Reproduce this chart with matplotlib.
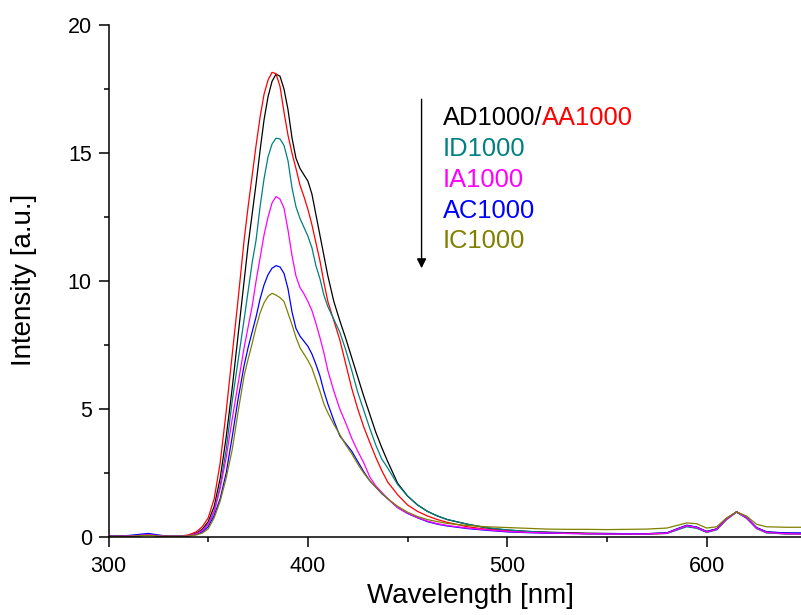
import matplotlib
matplotlib.use("Agg")
import matplotlib.pyplot as plt
from matplotlib.ticker import MultipleLocator

plt.rcParams['font.family'] = ['Liberation Sans', 'DejaVu Sans']

wavelength = [300, 305, 310, 315, 320, 325, 330, 335, 340, 344, 347,
              350, 353, 356, 359, 362, 365, 368,
              370, 372, 374, 376, 378, 380, 382, 384, 386, 388, 390,
              392, 394, 396, 398, 400, 402, 404, 406, 408, 410,
              413, 416, 419, 422, 425, 428, 431, 434, 437, 440,
              445, 450, 455, 460, 465, 470,
              480, 490, 500, 510, 520, 530, 540, 550, 560, 570, 580,
              585, 590, 595, 600, 605, 610, 615, 620, 625, 630,
              640, 647]

AD1000 = [0.03, 0.03, 0.04, 0.05, 0.08, 0.05, 0.03, 0.03, 0.06, 0.15, 0.3,
          0.6, 1.2, 2.3, 3.9, 5.8, 7.9, 10.0,
          11.4, 12.6, 13.8, 15.1, 16.3, 17.2, 17.8, 18.08, 18.0, 17.5, 16.7,
          15.6, 14.8, 14.4, 14.15, 13.9, 13.4, 12.6, 11.8, 11.0, 10.2,
          9.2, 8.45, 7.75, 7.0, 6.25, 5.5, 4.8, 4.1, 3.5, 2.95,
          2.1, 1.6, 1.25, 1.0, 0.82, 0.68,
          0.5, 0.35, 0.27, 0.22, 0.19, 0.17, 0.15, 0.14, 0.13, 0.13, 0.16,
          0.3, 0.45, 0.38, 0.22, 0.32, 0.72, 0.98, 0.75, 0.36, 0.2,
          0.15, 0.14]

AA1000 = [0.03, 0.03, 0.04, 0.06, 0.1, 0.06, 0.03, 0.03, 0.08, 0.2, 0.4,
          0.75, 1.5, 2.9, 4.9, 7.1, 9.3, 11.6,
          12.9, 14.1, 15.3, 16.4, 17.3, 17.85, 18.15, 18.1, 17.6, 16.6, 15.7,
          15.0, 14.4, 13.75, 13.3, 12.8, 12.2, 11.5, 10.8, 9.95, 9.2,
          8.45, 7.7, 6.75, 5.8, 5.0, 4.3, 3.7, 3.12, 2.6, 2.15,
          1.65, 1.25, 1.0, 0.82, 0.68, 0.57,
          0.4, 0.3, 0.25, 0.2, 0.17, 0.15, 0.13, 0.12, 0.11, 0.11, 0.14,
          0.28, 0.43, 0.36, 0.19, 0.3, 0.7, 0.98, 0.74, 0.34, 0.17,
          0.12, 0.12]

ID1000 = [0.03, 0.03, 0.04, 0.05, 0.08, 0.05, 0.03, 0.03, 0.05, 0.12, 0.25,
          0.5, 1.0, 2.0, 3.4, 5.3, 6.9, 8.5,
          9.6, 10.7, 11.6, 12.9, 14.0, 14.85, 15.35, 15.58, 15.55, 15.3, 14.7,
          13.65, 12.9, 12.45, 12.1, 11.75, 11.3, 10.6, 10.1, 9.45, 9.0,
          8.5, 8.0, 7.3, 6.5, 5.65, 4.95, 4.25, 3.6, 3.05, 2.7,
          2.05, 1.6, 1.25, 1.0, 0.82, 0.68,
          0.5, 0.36, 0.28, 0.22, 0.18, 0.15, 0.13, 0.12, 0.12, 0.12, 0.14,
          0.27, 0.4, 0.34, 0.18, 0.28, 0.68, 0.97, 0.73, 0.33, 0.16,
          0.12, 0.12]

IA1000 = [0.03, 0.03, 0.04, 0.06, 0.09, 0.05, 0.03, 0.03, 0.05, 0.12, 0.25,
          0.5, 1.0, 1.9, 3.1, 4.6, 6.0, 7.4,
          8.2, 9.0, 10.0, 10.9, 11.8, 12.5, 13.05, 13.3, 13.2, 12.85, 12.0,
          11.0, 10.2, 9.75, 9.5, 9.2, 8.85, 8.35, 7.8, 7.2, 6.5,
          5.7, 5.0, 4.45, 3.85, 3.35, 2.9, 2.35, 2.0, 1.75, 1.5,
          1.15, 0.93, 0.76, 0.62, 0.52, 0.45,
          0.35, 0.28, 0.22, 0.18, 0.16, 0.14, 0.13, 0.12, 0.12, 0.12, 0.15,
          0.3, 0.44, 0.37, 0.2, 0.3, 0.7, 0.98, 0.75, 0.35, 0.18,
          0.13, 0.12]

AC1000 = [0.03, 0.04, 0.06, 0.1, 0.14, 0.08, 0.03, 0.03, 0.04, 0.1, 0.2,
          0.4, 0.85, 1.5, 2.5, 3.9, 5.4, 6.7,
          7.4, 8.0, 8.6, 9.3, 9.85, 10.25, 10.5, 10.6, 10.55, 10.3, 9.7,
          8.8, 8.15, 7.85, 7.65, 7.45, 7.15, 6.75, 6.3, 5.7, 5.2,
          4.55, 3.95, 3.65, 3.35, 2.95, 2.55, 2.2, 1.95, 1.7, 1.5,
          1.15, 0.92, 0.75, 0.6, 0.5, 0.43,
          0.33, 0.26, 0.2, 0.17, 0.15, 0.14, 0.13, 0.13, 0.13, 0.13, 0.16,
          0.32, 0.46, 0.39, 0.21, 0.31, 0.72, 0.99, 0.77, 0.37, 0.2,
          0.16, 0.16]

IC1000 = [0.02, 0.03, 0.03, 0.05, 0.07, 0.04, 0.03, 0.03, 0.04, 0.08, 0.15,
          0.32, 0.75, 1.4, 2.3, 3.4, 4.9, 6.3,
          6.95, 7.55, 8.2, 8.75, 9.15, 9.4, 9.52, 9.45, 9.35, 9.2, 8.75,
          8.3, 7.8, 7.4, 7.15, 6.9, 6.6, 6.15, 5.7, 5.2, 4.85,
          4.4, 4.0, 3.6, 3.25, 2.85, 2.5, 2.2, 1.95, 1.72, 1.5,
          1.2, 0.97, 0.8, 0.68, 0.6, 0.53,
          0.45, 0.4, 0.37, 0.34, 0.31, 0.3, 0.3, 0.29, 0.3, 0.31, 0.35,
          0.45, 0.55, 0.52, 0.35, 0.4, 0.75, 0.98, 0.82, 0.5, 0.4,
          0.38, 0.38]

series = [
    ("AD1000", AD1000, "#000000"),
    ("AA1000", AA1000, "#FF0000"),
    ("ID1000", ID1000, "#008080"),
    ("AC1000", AC1000, "#0000FF"),
    ("IA1000", IA1000, "#FF00FF"),
    ("IC1000", IC1000, "#808000"),
]
colors = {name: c for name, _, c in series}

fig = plt.figure(figsize=(8.01, 6.15), dpi=100)
ax = fig.add_axes([0.1355, 0.1268, 0.8645, 0.8325])

for name, vals, c in series:
    ax.plot(wavelength, vals, color=c, lw=0.9)

ax.set_xlim(300, 647.3)
ax.set_ylim(0, 20)
ax.spines['top'].set_visible(False)
ax.spines['right'].set_visible(False)
for s in ('left', 'bottom'):
    ax.spines[s].set_linewidth(1.1)

ax.xaxis.set_major_locator(MultipleLocator(100))
ax.xaxis.set_minor_locator(MultipleLocator(50))
ax.yaxis.set_major_locator(MultipleLocator(5))
ax.yaxis.set_minor_locator(MultipleLocator(2.5))
ax.tick_params(which='major', direction='out', length=7, width=1.1, labelsize=15.5, pad=5)
ax.tick_params(which='minor', direction='out', length=3.6, width=1.1)
ax.tick_params(axis='x', which='major', pad=7)

ax.set_xlabel("Wavelength [nm]", fontsize=20)
ax.set_ylabel("Intensity [a.u.]", fontsize=20)
ax.xaxis.set_label_coords(0.522, -0.09)
ax.yaxis.set_label_coords(-0.103, 0.502)

# arrow
ax.annotate('', xy=(457, 10.5), xytext=(457, 17.1),
            arrowprops=dict(arrowstyle='-|>', color='black', lw=1.0, mutation_scale=14,
                            shrinkA=0, shrinkB=0))

tx = 467.6
fs = 18.4
t1 = ax.text(tx, 16.37, "AD1000/", color=colors["AD1000"], fontsize=fs, va='center', ha='left')
ax.annotate("AA1000", xy=(1, 0), xycoords=t1, va='bottom', ha='left',
            color=colors["AA1000"], fontsize=fs)
labels = ["ID1000", "IA1000", "AC1000", "IC1000"]
ys = [15.16, 13.95, 12.73, 11.56]
for lab, yv in zip(labels, ys):
    ax.text(tx, yv, lab, color=colors[lab], fontsize=fs, va='center', ha='left')

fig.savefig("out.png", dpi=100)
